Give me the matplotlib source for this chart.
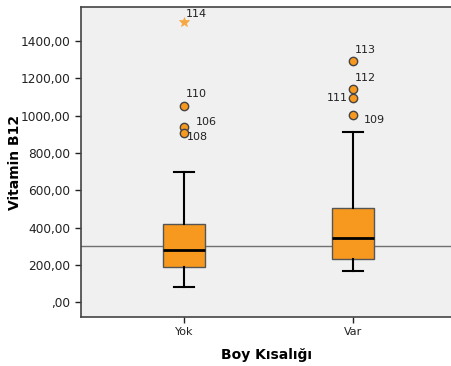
import matplotlib.pyplot as plt
from matplotlib.ticker import FuncFormatter

groups = ["Yok", "Var"]
q1 = [188, 232]
med = [282, 343]
q3 = [421, 507]
whislo = [80, 168]
whishi = [698, 915]
outlier_vals = [[1054, 941, 906], [1292, 1145, 1095, 1004]]
outlier_ids = [["110", "106", "108"], ["113", "112", "111", "109"]]
extreme_vals = [[1501], []]
extreme_ids = [["114"], []]
ref_value = 300

# label offsets in pixels (dx, dy) for each case label
offsets = {"110": (2, 12), "106": (12, 5), "108": (3, -4), "114": (2, 8),
           "113": (2, 11), "112": (2, 11), "111": (-5, 0), "109": (11, -5)}

orange = "#f7991f"

fig = plt.figure(figsize=(4.52, 3.66), dpi=100)
ax = fig.add_axes([0.179, 0.134, 0.821, 0.847])
ax.set_facecolor("#f0f0f0")

stats = []
for i, g in enumerate(groups):
    stats.append({"label": g, "q1": q1[i], "med": med[i], "q3": q3[i],
                  "whislo": whislo[i], "whishi": whishi[i],
                  "fliers": outlier_vals[i]})

ax.axhline(ref_value, color="#707070", lw=1.0, zorder=1)

ax.bxp(stats, positions=[1, 2], widths=0.25, patch_artist=True,
       boxprops=dict(facecolor=orange, edgecolor="#555555", lw=1.0),
       medianprops=dict(color="black", lw=2.0),
       whiskerprops=dict(color="black", lw=1.5),
       capprops=dict(color="black", lw=1.5),
       capwidths=0.12,
       flierprops=dict(marker="o", markerfacecolor=orange,
                       markeredgecolor="#444444", markersize=6, markeredgewidth=1.0),
       zorder=2)

for i in range(len(groups)):
    pos = i + 1
    for v, lab in zip(outlier_vals[i], outlier_ids[i]):
        dx, dy = offsets[lab]
        ax.annotate(lab, (pos, v), xytext=(dx, dy), textcoords="offset pixels",
                    fontsize=8, color="#222222", va="center",
                    ha="right" if dx < 0 else "left")
    for v, lab in zip(extreme_vals[i], extreme_ids[i]):
        ax.plot([pos], [v], marker="*", color="#f5a742", markersize=7,
                markeredgewidth=0.5, ls="none")
        dx, dy = offsets[lab]
        ax.annotate(lab, (pos, v), xytext=(dx, dy), textcoords="offset pixels",
                    fontsize=8, color="#222222", va="center", ha="left")

ax.set_xlim(0.39, 2.586)
ax.set_ylim(-79, 1583)
ax.set_yticks(range(0, 1401, 200))
ax.yaxis.set_major_formatter(FuncFormatter(
    lambda v, p: ",00" if v == 0 else f"{v:.2f}".replace(".", ",")))
ax.set_xticks([1, 2])
ax.set_xticklabels(groups)
ax.tick_params(axis="both", labelsize=8.7, colors="#222222", length=4, width=1)
ax.tick_params(axis="x", pad=3, labelsize=8)

for s in ["top", "bottom", "left"]:
    ax.spines[s].set_color("#444444")
    ax.spines[s].set_linewidth(1.2)
ax.spines["right"].set_visible(False)

ax.set_ylabel("Vitamin B12", fontsize=10, fontweight="bold")
ax.yaxis.set_label_coords(-0.159, 0.5)
ax.set_xlabel("Boy Kısalığı", fontsize=10, fontweight="bold", labelpad=8)

fig.savefig("out.png", dpi=100)
